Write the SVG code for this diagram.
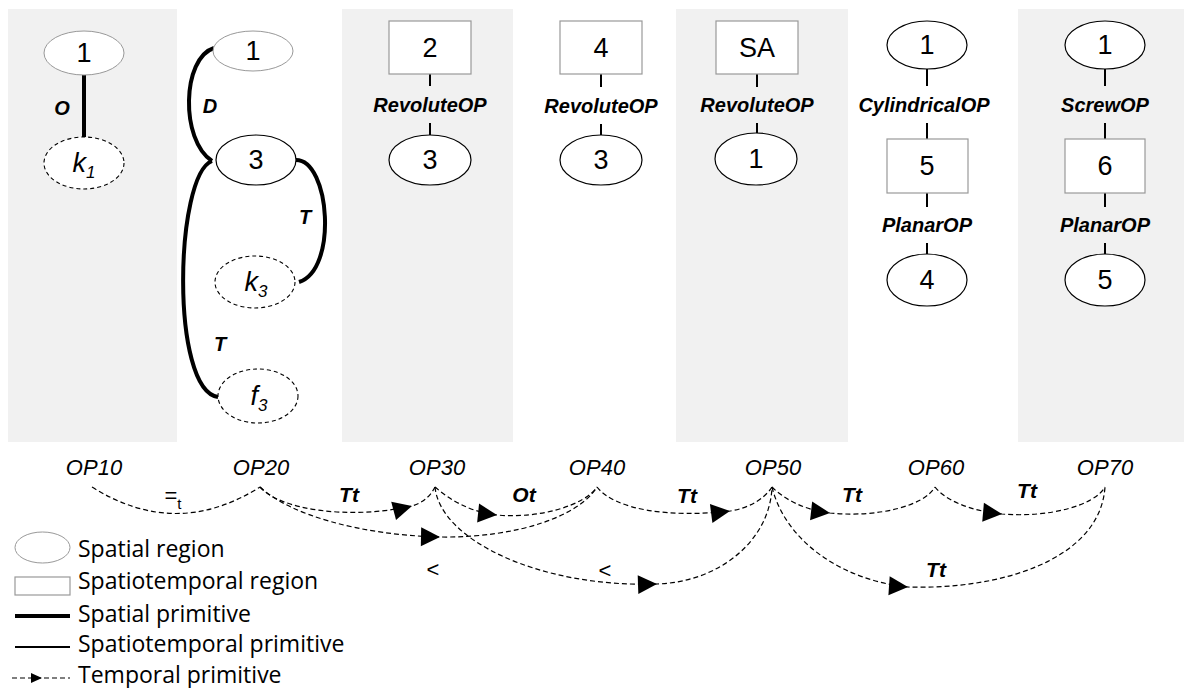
<svg xmlns="http://www.w3.org/2000/svg" width="1184" height="688" viewBox="0 0 1184 688">
<defs>
<style>
.panel{fill:#f1f1f1}
.sg{fill:#fff;stroke:#999;stroke-width:1}
.sb{fill:#fff;stroke:#000;stroke-width:1.2}
.st{fill:#fff;stroke:#999;stroke-width:1.2}
.ds{fill:#fff;stroke:#000;stroke-width:1.1;stroke-dasharray:4 3}
.n{font-family:"Liberation Sans",Arial,sans-serif;font-size:27px;text-anchor:middle;fill:#000}
.lb{font-family:"Liberation Sans",Arial,sans-serif;font-size:20px;font-weight:bold;font-style:italic;text-anchor:middle;fill:#000}
.la{font-size:21px}
.lr{font-family:"Liberation Sans",Arial,sans-serif;font-size:22px;text-anchor:middle;fill:#000}
.op{font-family:"Liberation Sans",Arial,sans-serif;font-size:22px;font-style:italic;text-anchor:middle;fill:#000}
.thick{fill:none;stroke:#000;stroke-width:4}
.thin{fill:none;stroke:#000;stroke-width:2}
.tp{fill:none;stroke:#000;stroke-width:1.2;stroke-dasharray:5 3}
.tpa{marker-mid:url(#ah)}
.leg{font-family:"Open Sans","Liberation Sans",sans-serif;font-size:23px;fill:#000}
</style>
<marker id="ah" markerUnits="userSpaceOnUse" viewBox="-20 -10 20 20" refX="0" refY="0" markerWidth="20" markerHeight="20" orient="auto"><path d="M0,0 L-19,-9.5 L-19,9.5 Z" fill="#000" stroke="none"/></marker>
</defs>

<g id="panels">
<rect class="panel" x="8" y="9" width="169" height="433"/>
<rect class="panel" x="342" y="9" width="171" height="433"/>
<rect class="panel" x="676" y="9" width="172" height="433"/>
<rect class="panel" x="1018" y="9" width="166" height="433"/>
</g>

<g id="connectors">
<line class="thick" x1="84" y1="75" x2="84" y2="137"/>
<path class="thick" d="M214,48 C182,58 180,140 212,161"/>
<path class="thick" d="M296,160 C330,160 338,270 299,282"/>
<path class="thick" d="M212,161 C175,175 170,390 218,397"/>
<line class="thin" x1="430" y1="74" x2="430" y2="86"/>
<line class="thin" x1="430" y1="123" x2="430" y2="135"/>
<line class="thin" x1="601" y1="74" x2="601" y2="87"/>
<line class="thin" x1="601" y1="124" x2="601" y2="135"/>
<line class="thin" x1="757" y1="74" x2="757" y2="87"/>
<line class="thin" x1="757" y1="123" x2="757" y2="133"/>
<line class="thin" x1="927" y1="69" x2="927" y2="86"/>
<line class="thin" x1="927" y1="123" x2="927" y2="139"/>
<line class="thin" x1="927" y1="193" x2="927" y2="207"/>
<line class="thin" x1="927" y1="243" x2="927" y2="254"/>
<line class="thin" x1="1105" y1="69" x2="1105" y2="86"/>
<line class="thin" x1="1105" y1="123" x2="1105" y2="139"/>
<line class="thin" x1="1105" y1="193" x2="1105" y2="207"/>
<line class="thin" x1="1105" y1="243" x2="1105" y2="254"/>
<path class="tp" d="M92,487 Q176,540 260,487"/>
<path class="tp tpa" d="M260,487 C280,510 350,520 412,506 C422,503 430,497 435,487"/>
<path class="tp tpa" d="M260,487 C290,515 360,535 440,537 C520,538 580,515 597,487"/>
<path class="tp tpa" d="M435,487 C450,500 470,512 497,515 C540,519 585,505 597,487"/>
<path class="tp tpa" d="M597,487 C615,510 670,518 730,511 C750,508 765,498 772,487"/>
<path class="tp tpa" d="M435,487 C440,540 540,588 657,584 C720,582 770,540 772,487"/>
<path class="tp tpa" d="M772,487 C785,500 805,510 830,513 C880,518 925,505 935,487"/>
<path class="tp tpa" d="M935,487 C945,500 970,511 1002,514 C1050,518 1095,505 1105,487"/>
<path class="tp tpa" d="M772,487 C785,540 840,580 908,587 C1000,590 1100,560 1105,487"/>
<text class="lb" x="62" y="115">O</text>
<text class="lb" x="210" y="113">D</text>
<text class="lb" x="305" y="224">T</text>
<text class="lb" x="220" y="351">T</text>
<text class="lb" x="430" y="112">RevoluteOP</text>
<text class="lb" x="601" y="113">RevoluteOP</text>
<text class="lb" x="757" y="112">RevoluteOP</text>
<text class="lb" x="924" y="112">CylindricalOP</text>
<text class="lb" x="927" y="232">PlanarOP</text>
<text class="lb" x="1105" y="112">ScrewOP</text>
<text class="lb" x="1105" y="232">PlanarOP</text>
<text class="lr" x="173" y="503">=<tspan font-size="15" dy="6">t</tspan></text>
<text class="lb la" x="349" y="502">Tt</text>
<text class="lr" x="433" y="577" font-size="24">&lt;</text>
<text class="lb la" x="524" y="502">Ot</text>
<text class="lb la" x="687" y="503" font-style="normal">Tt</text>
<text class="lr" x="605" y="578" font-size="24">&lt;</text>
<text class="lb la" x="852" y="502">Tt</text>
<text class="lb la" x="1027" y="498">Tt</text>
<text class="lb la" x="936" y="577">Tt</text>
</g>

<g id="op10">
<ellipse class="sg" cx="84" cy="53" rx="40" ry="22"/>
<text class="n" x="84" y="62">1</text>
<ellipse class="ds" cx="84" cy="163" rx="40" ry="26"/>
<text class="n" x="84" y="172" font-style="italic">k<tspan font-size="17" dy="6">1</tspan></text>
<text class="op" x="94" y="475">OP10</text>
</g>

<g id="op20">
<ellipse class="sg" cx="253" cy="51" rx="40" ry="20"/>
<text class="n" x="253" y="60">1</text>
<ellipse class="sb" cx="256" cy="160" rx="40" ry="25"/>
<text class="n" x="256" y="169">3</text>
<ellipse class="ds" cx="255" cy="282" rx="40" ry="26"/>
<text class="n" x="256" y="291" font-style="italic">k<tspan font-size="17" dy="6">3</tspan></text>
<ellipse class="ds" cx="258" cy="396" rx="40" ry="27"/>
<text class="n" x="259" y="405" font-style="italic">f<tspan font-size="17" dy="6">3</tspan></text>
<text class="op" x="261" y="475">OP20</text>
</g>

<g id="op30">
<rect class="st" x="389" y="21" width="82" height="53"/>
<text class="n" x="430" y="57">2</text>
<ellipse class="sb" cx="430" cy="160" rx="41" ry="25"/>
<text class="n" x="430" y="169">3</text>
<text class="op" x="437" y="475">OP30</text>
</g>

<g id="op40">
<rect class="st" x="560" y="21" width="82" height="53"/>
<text class="n" x="601" y="57">4</text>
<ellipse class="sb" cx="601" cy="160" rx="41" ry="25"/>
<text class="n" x="601" y="169">3</text>
<text class="op" x="597" y="475">OP40</text>
</g>

<g id="op50">
<rect class="st" x="716" y="21" width="82" height="53"/>
<text class="n" x="757" y="57">SA</text>
<ellipse class="sb" cx="756" cy="159" rx="41" ry="26"/>
<text class="n" x="756" y="168">1</text>
<text class="op" x="773" y="475">OP50</text>
</g>

<g id="op60">
<ellipse class="sb" cx="927" cy="45" rx="40" ry="24"/>
<text class="n" x="927" y="54">1</text>
<rect class="st" x="887" y="139" width="81" height="54"/>
<text class="n" x="927" y="175">5</text>
<ellipse class="sb" cx="927" cy="280" rx="40" ry="26"/>
<text class="n" x="927" y="289">4</text>
<text class="op" x="936" y="475">OP60</text>
</g>

<g id="op70">
<ellipse class="sb" cx="1105" cy="45" rx="40" ry="24"/>
<text class="n" x="1105" y="54">1</text>
<rect class="st" x="1065" y="139" width="80" height="54"/>
<text class="n" x="1105" y="175">6</text>
<ellipse class="sb" cx="1105" cy="280" rx="40" ry="26"/>
<text class="n" x="1105" y="289">5</text>
<text class="op" x="1105" y="475">OP70</text>
</g>

<g id="legend">
<ellipse class="sg" cx="42.5" cy="547.5" rx="27.5" ry="15.5"/>
<text class="leg" x="78" y="557">Spatial region</text>
<rect class="st" x="15" y="577" width="55" height="18"/>
<text class="leg" x="78" y="589">Spatiotemporal region</text>
<line class="thick" x1="15" y1="616" x2="70" y2="616"/>
<text class="leg" x="78" y="622">Spatial primitive</text>
<line class="thin" x1="15" y1="647" x2="70" y2="647"/>
<text class="leg" x="78" y="652">Spatiotemporal primitive</text>
<line class="tp" x1="12" y1="678" x2="70" y2="678" stroke-dasharray="4 3"/>
<polygon points="31,673 42,678 31,683" fill="#000"/>
<text class="leg" x="78" y="683">Temporal primitive</text>
</g>
</svg>
